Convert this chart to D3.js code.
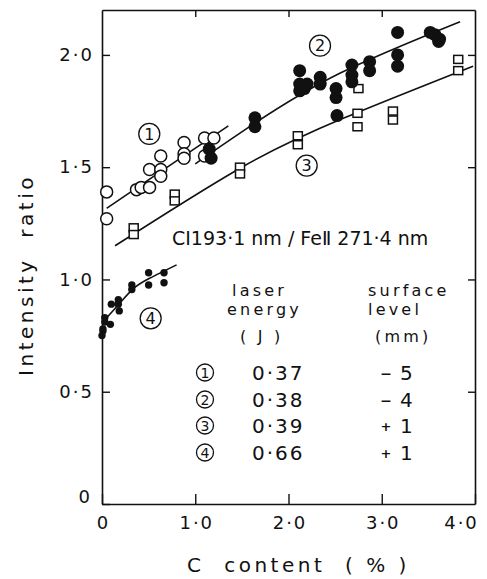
<!DOCTYPE html>
<html>
<head>
<meta charset="utf-8">
<script src="https://cdn.jsdelivr.net/npm/d3@7"></script>
<style>
    body { margin: 0; background: #fff; }
    text { font-family: "DejaVu Sans", sans-serif; fill: #111; }
</style>
</head>
<body>
<div id="chart"></div>
<script>
// series 1: open circles (C %, intensity ratio)
const s1C = [0.05, 0.05, 0.37, 0.42, 0.51, 0.51, 0.63, 0.63, 0.63, 0.88, 0.88, 0.88, 1.10, 1.20, 1.10];
const s1R = [1.39, 1.27, 1.40, 1.41, 1.41, 1.49, 1.49, 1.46, 1.55, 1.61, 1.56, 1.54, 1.63, 1.63, 1.55];
// series 2: filled circles
const s2C = [1.15, 1.17, 1.64, 1.64, 2.12, 2.12, 2.17, 2.12, 2.20, 2.34, 2.34, 2.51, 2.51, 2.52, 2.68, 2.68, 2.68, 2.87, 2.87, 3.17, 3.17, 3.17, 3.52, 3.57, 3.62, 3.61];
const s2R = [1.58, 1.54, 1.72, 1.68, 1.93, 1.87, 1.85, 1.84, 1.87, 1.90, 1.87, 1.85, 1.81, 1.73, 1.955, 1.91, 1.88, 1.97, 1.93, 2.10, 2.00, 1.95, 2.10, 2.09, 2.07, 2.06];
// series 3: open squares
const s3C = [0.34, 0.34, 0.78, 0.78, 1.48, 1.48, 2.10, 2.10, 2.75, 2.74, 2.74, 3.12, 3.12, 3.82, 3.82];
const s3R = [1.23, 1.20, 1.38, 1.35, 1.50, 1.47, 1.64, 1.60, 1.85, 1.74, 1.68, 1.75, 1.71, 1.98, 1.93];
// series 4: small filled circles
const s4C = [0.01, 0.00, 0.01, 0.03, 0.03, 0.09, 0.10, 0.175, 0.175, 0.185, 0.32, 0.32, 0.50, 0.50, 0.665, 0.665];
const s4R = [0.77, 0.75, 0.78, 0.83, 0.81, 0.80, 0.89, 0.91, 0.89, 0.86, 0.975, 0.955, 1.03, 0.975, 1.03, 0.985];

// fitted curves
const fit1C = [0.05, 0.70, 1.355];
const fit1R = [1.317, 1.50, 1.684];
const fit2C = [1.00, 1.64, 2.55, 3.84];
const fit2R = [1.515, 1.696, 1.918, 2.148];
const fit3C = [0.14, 1.50, 2.60, 3.98];
const fit3R = [1.15, 1.50, 1.72, 1.95];
const fit4C = [0.03, 0.19, 0.34, 0.51, 0.80];
const fit4R = [0.82, 0.894, 0.96, 1.005, 1.065];

// curve labels (circled numbers) in data units
const labelIds = ["1", "2", "3", "4"];
const labelC = [0.507, 2.338, 2.195, 0.522];
const labelR = [1.648, 2.041, 1.507, 0.827];

// legend table
const legendIds = ["1", "2", "3", "4"];
const laserEnergy = ["0·37", "0·38", "0·39", "0·66"];
const surfaceLevel = ["−5", "−4", "+1", "+1"];

const xTicks = [0, 1, 2, 3, 4];
const yTicks = [0, 0.5, 1.0, 1.5, 2.0];

const width = 487, height = 579;

const svg = d3.select("#chart").append("svg")
    .attr("width", width)
    .attr("height", height)
    .style("background", "#fff");

const x = d3.scaleLinear().domain([0, 4]).range([102, 475]);
const y = d3.scaleLinear().domain([0, 2.2]).range([504, 10]);

const fmt = (d) => (d === 0 ? "0" : d3.format(".1f")(d).replace(".", "·"));

// axes
const axisStyle = (g) => {
    g.select(".domain").attr("stroke", "#111").attr("stroke-width", 1.6);
    g.selectAll(".tick line").attr("stroke", "#111").attr("stroke-width", 1.4);
    g.selectAll(".tick text")
        .attr("font-size", 18)
        .attr("letter-spacing", 2)
        .attr("fill", "#111")
        .attr("font-family", "DejaVu Sans");
};

svg.append("g")
    .attr("transform", `translate(0,${y(0)})`)
    .call(d3.axisBottom(x).tickValues(xTicks).tickFormat(fmt).tickSizeInner(-10).tickSizeOuter(0).tickPadding(12))
    .call(axisStyle)
    .call((g) => g.selectAll(".tick text").attr("dx", 1))
    // last label sits inside the frame edge, as in the original
    .call((g) => g.selectAll(".tick").filter((d) => d === 4).select("text").attr("dx", -14));

svg.append("g")
    .attr("transform", `translate(${x(0)},0)`)
    .call(d3.axisLeft(y).tickValues(yTicks).tickFormat(fmt).tickSizeInner(-8).tickSizeOuter(0).tickPadding(8))
    .call(axisStyle)
    .call((g) => g.selectAll(".tick").filter((d) => d === 0).select("text").attr("dy", "-0.1em").attr("x", -10));

svg.append("g")
    .attr("transform", `translate(0,${y(2.2)})`)
    .call(d3.axisTop(x).tickValues([1, 2, 3]).tickFormat("").tickSizeInner(-7).tickSizeOuter(0))
    .call(axisStyle);

svg.append("g")
    .attr("transform", `translate(${x(4)},0)`)
    .call(d3.axisRight(y).tickValues([0.5, 1.0, 1.5, 2.0]).tickFormat("").tickSizeInner(-7).tickSizeOuter(0))
    .call(axisStyle);

// axis titles
svg.append("text")
    .attr("transform", `translate(33,${(y(0) + y(2.2)) / 2 + 18}) rotate(-90)`)
    .attr("text-anchor", "middle")
    .attr("font-size", 20)
    .attr("letter-spacing", 3.5)
    .style("white-space", "pre")
    .text("Intensity  ratio");

svg.append("text")
    .attr("x", 187)
    .attr("y", 572)
    .attr("font-size", 20)
    .attr("letter-spacing", 3.5)
    .style("white-space", "pre")
    .text("C  content  ( % )");

// fitted curves
const line = d3.line()
    .x((d) => x(d[0]))
    .y((d) => y(d[1]))
    .curve(d3.curveNatural);

[[fit1C, fit1R], [fit2C, fit2R], [fit3C, fit3R], [fit4C, fit4R]].forEach(([c, r]) => {
    svg.append("path")
        .datum(d3.zip(c, r))
        .attr("d", line)
        .attr("fill", "none")
        .attr("stroke", "#111")
        .attr("stroke-width", 1.6);
});

// markers
svg.append("g").selectAll("rect")
    .data(d3.zip(s3C, s3R))
    .join("rect")
    .attr("x", (d) => x(d[0]) - 4.5)
    .attr("y", (d) => y(d[1]) - 4)
    .attr("width", 9)
    .attr("height", 8)
    .attr("fill", "#fff")
    .attr("stroke", "#111")
    .attr("stroke-width", 1.5);

svg.append("g").selectAll("circle")
    .data(d3.zip(s1C, s1R))
    .join("circle")
    .attr("cx", (d) => x(d[0]))
    .attr("cy", (d) => y(d[1]))
    .attr("r", 6)
    .attr("fill", "#fff")
    .attr("stroke", "#111")
    .attr("stroke-width", 1.5);

svg.append("g").selectAll("circle")
    .data(d3.zip(s2C, s2R))
    .join("circle")
    .attr("cx", (d) => x(d[0]))
    .attr("cy", (d) => y(d[1]))
    .attr("r", 6.5)
    .attr("fill", "#111");

svg.append("g").selectAll("circle")
    .data(d3.zip(s4C, s4R))
    .join("circle")
    .attr("cx", (d) => x(d[0]))
    .attr("cy", (d) => y(d[1]))
    .attr("r", 3.7)
    .attr("fill", "#111");

// circled number helper
function circled(parent, cx, cy, r, label, fontSize) {
    const g = parent.append("g").attr("transform", `translate(${cx},${cy})`);
    g.append("circle")
        .attr("r", r)
        .attr("fill", "none")
        .attr("stroke", "#111")
        .attr("stroke-width", 1.3);
    g.append("text")
        .attr("text-anchor", "middle")
        .attr("dy", "0.36em")
        .attr("font-size", fontSize)
        .text(label);
}

labelIds.forEach((id, i) => circled(svg, x(labelC[i]), y(labelR[i]), 10.5, id, 16));

// line ratio text
svg.append("text")
    .attr("x", 172)
    .attr("y", 245)
    .attr("font-size", 19)
    .style("white-space", "pre")
    .text("CI193·1 nm / FeⅡ 271·4 nm");

// legend table
const legend = svg.append("g");
const header = (tx, ty, s) =>
    legend.append("text")
        .attr("x", tx)
        .attr("y", ty)
        .attr("font-size", 16)
        .attr("letter-spacing", 3.2)
        .style("white-space", "pre")
        .text(s);

header(232, 296, "laser");
header(227, 315, "energy");
header(240, 342, "( J )");
header(368, 296, "surface");
header(368, 315, "level");
header(375, 342, "(mm)");

const rowY = [380, 407, 433, 460];
legendIds.forEach((id, i) => {
    circled(legend, 205, rowY[i] - 7.5, 8.5, id, 14);
    legend.append("text")
        .attr("x", 252)
        .attr("y", rowY[i])
        .attr("font-size", 20)
        .attr("letter-spacing", 2)
        .text(laserEnergy[i]);
    const sign = surfaceLevel[i][0];
    legend.append("text")
        .attr("x", 386)
        .attr("y", rowY[i] - (sign === "+" ? 2 : 0))
        .attr("text-anchor", "middle")
        .attr("font-size", sign === "+" ? 13 : 22)
        .attr("font-weight", sign === "+" ? "bold" : "normal")
        .text(sign === "−" ? "–" : sign);
    legend.append("text")
        .attr("x", 400)
        .attr("y", rowY[i])
        .attr("font-size", 20)
        .text(surfaceLevel[i].slice(1));
});
</script>
</body>
</html>
